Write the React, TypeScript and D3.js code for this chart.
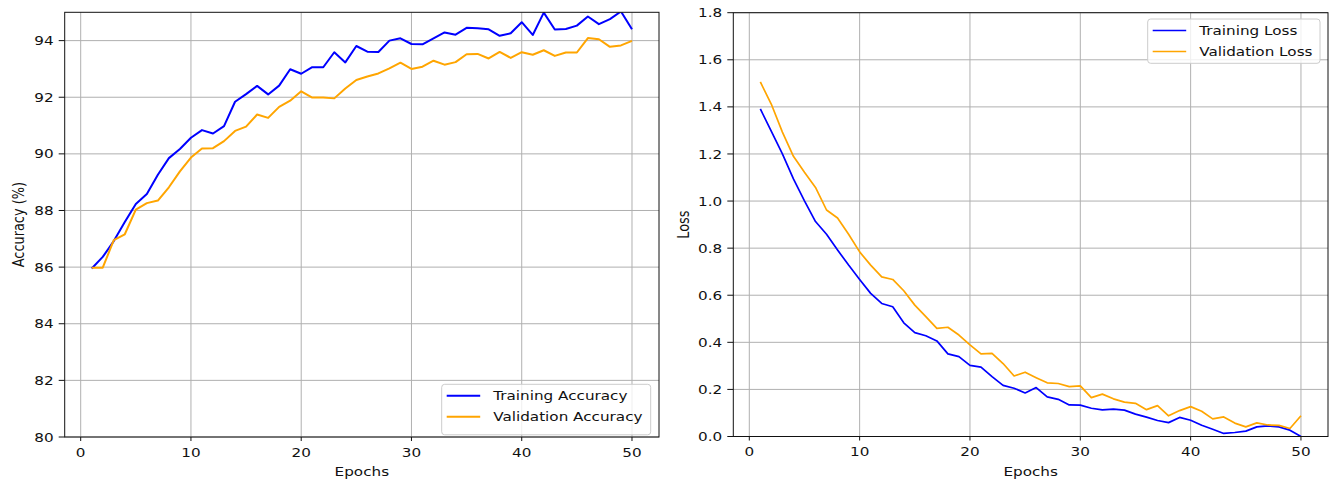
import React from "react";
import * as d3 from "d3";

const epochs = [1,2,3,4,5,6,7,8,9,10,11,12,13,14,15,16,17,18,19,20,21,22,23,24,25,26,27,28,29,30,31,32,33,34,35,36,37,38,39,40,41,42,43,44,45,46,47,48,49,50];

const trainAcc = [85.95,86.36,86.92,87.59,88.23,88.58,89.26,89.85,90.17,90.57,90.84,90.72,90.98,91.84,92.11,92.40,92.10,92.41,92.99,92.83,93.06,93.06,93.59,93.23,93.81,93.61,93.60,94.00,94.08,93.88,93.87,94.08,94.29,94.21,94.45,94.44,94.40,94.17,94.26,94.65,94.20,94.99,94.39,94.41,94.53,94.85,94.58,94.76,95.03,94.40];
const valAcc = [85.98,85.98,86.95,87.16,88.03,88.26,88.35,88.82,89.38,89.87,90.19,90.20,90.45,90.81,90.96,91.39,91.27,91.66,91.88,92.21,91.99,91.99,91.96,92.31,92.61,92.73,92.84,93.02,93.22,93.00,93.08,93.29,93.15,93.24,93.52,93.53,93.37,93.60,93.39,93.59,93.50,93.66,93.46,93.58,93.58,94.09,94.05,93.78,93.83,93.99];
const trainLoss = [1.391,1.296,1.200,1.094,1.001,0.913,0.859,0.792,0.728,0.667,0.608,0.565,0.551,0.483,0.441,0.428,0.406,0.351,0.339,0.302,0.295,0.254,0.217,0.205,0.185,0.208,0.168,0.158,0.134,0.133,0.120,0.113,0.116,0.112,0.095,0.082,0.068,0.059,0.081,0.069,0.048,0.031,0.013,0.017,0.023,0.041,0.045,0.041,0.027,0.0];
const valLoss = [1.506,1.411,1.293,1.190,1.122,1.058,0.962,0.928,0.859,0.784,0.728,0.678,0.667,0.619,0.558,0.509,0.459,0.464,0.431,0.389,0.351,0.353,0.310,0.257,0.273,0.250,0.228,0.225,0.212,0.215,0.165,0.180,0.160,0.146,0.141,0.114,0.131,0.088,0.110,0.127,0.107,0.075,0.083,0.057,0.041,0.058,0.049,0.047,0.034,0.088];

const xTicks = [0, 10, 20, 30, 40, 50];
const accTicks = [80, 82, 84, 86, 88, 90, 92, 94];
const lossTicks = [0.0, 0.2, 0.4, 0.6, 0.8, 1.0, 1.2, 1.4, 1.6, 1.8];

const FONT = "'DejaVu Sans', sans-serif";
const FS = 12.9;
const SX = 1.18;
const TXT = "#111111";
const BLUE = "#0000ff";
const ORANGE = "#ffa500";
const GRID = "#b0b0b0";

function T({ x, y, anchor = "start", rotate = false, children }: any) {
  const tf = rotate
    ? `translate(${x},${y}) rotate(-90) scale(1,${SX})`
    : `translate(${x},${y}) scale(${SX},1)`;
  return (
    <text transform={tf} textAnchor={anchor}
      fontFamily={FONT} fontSize={FS} fill={TXT}>{children}</text>
  );
}

function Panel({ id, left, right, top, bottom, yDomain, yTicks, fmt, series, lw, yLabel, yLabelX, legend }: any) {
  const x = d3.scaleLinear().domain([-1.45, 52.45]).range([left, right]);
  const y = d3.scaleLinear().domain(yDomain).range([bottom, top]);
  const line = d3.line<number>().x((_, i) => x(epochs[i])).y(d => y(d));
  const midY = (top + bottom) / 2;
  return (
    <g>
      <defs>
        <clipPath id={id}>
          <rect x={left} y={top} width={right - left} height={bottom - top} />
        </clipPath>
      </defs>
      {xTicks.map(t => (
        <line key={"gx" + t} x1={x(t)} x2={x(t)} y1={top} y2={bottom} stroke={GRID} strokeWidth={1} />
      ))}
      {yTicks.map((t: number) => (
        <line key={"gy" + t} x1={left} x2={right} y1={y(t)} y2={y(t)} stroke={GRID} strokeWidth={1} />
      ))}
      <g clipPath={`url(#${id})`}>
        {series.map((s: any) => (
          <path key={s.name} d={line(s.values) as string} fill="none" stroke={s.color} strokeWidth={lw} strokeLinejoin="round" />
        ))}
      </g>
      <rect x={left} y={top} width={right - left} height={bottom - top} fill="none" stroke="#111" strokeWidth={1} />
      {xTicks.map(t => (
        <g key={"tx" + t}>
          <line x1={x(t)} x2={x(t)} y1={bottom} y2={bottom + 4} stroke="#111" strokeWidth={1} />
          <T x={x(t)} y={bottom + 19.5} anchor="middle">{String(t)}</T>
        </g>
      ))}
      {yTicks.map((t: number) => (
        <g key={"ty" + t}>
          <line x1={left - 6} x2={left} y1={y(t)} y2={y(t)} stroke="#111" strokeWidth={1} />
          <T x={left - 11} y={y(t) + 4.6} anchor="end">{fmt(t)}</T>
        </g>
      ))}
      <T x={(left + right) / 2} y={bottom + 39} anchor="middle">Epochs</T>
      <T x={yLabelX} y={midY} anchor="middle" rotate>{yLabel}</T>
      <g>
        <rect x={legend.x} y={legend.y} width={legend.w} height={legend.h} rx={3} ry={3}
          fill="#ffffff" fillOpacity={0.8} stroke="#cccccc" strokeWidth={1} />
        {series.map((s: any, i: number) => {
          const ly = legend.y + 11.5 + i * 21;
          return (
            <g key={"lg" + s.name}>
              <line x1={legend.x + 5} x2={legend.x + 38.5} y1={ly} y2={ly} stroke={s.color} strokeWidth={lw} />
              <T x={legend.x + 51.5} y={ly + 4.6}>{s.name}</T>
            </g>
          );
        })}
      </g>
    </g>
  );
}

export default function App() {
  return (
    <svg width={1335} height={481} style={{ position: "absolute", left: 0, top: 0, background: "#fff" }}>
      <rect x={0} y={0} width={1335} height={481} fill="#fff" />
      <Panel id="cA" left={64.7} right={659} top={12.3} bottom={437} yDomain={[80, 95]} yTicks={accTicks}
        fmt={(t: number) => String(t)} lw={2}
        series={[{ name: "Training Accuracy", values: trainAcc, color: BLUE }, { name: "Validation Accuracy", values: valAcc, color: ORANGE }]}
        yLabel="Accuracy (%)" yLabelX={24}
        legend={{ x: 441.7, y: 384.3, w: 209, h: 50.5 }} />
      <Panel id="cL" left={733.3} right={1328} top={12.7} bottom={436.5} yDomain={[0, 1.8]} yTicks={lossTicks}
        fmt={(t: number) => t.toFixed(1)} lw={1.7}
        series={[{ name: "Training Loss", values: trainLoss, color: BLUE }, { name: "Validation Loss", values: valLoss, color: ORANGE }]}
        yLabel="Loss" yLabelX={689}
        legend={{ x: 1147.7, y: 19, w: 172.3, h: 44.3 }} />
    </svg>
  );
}
